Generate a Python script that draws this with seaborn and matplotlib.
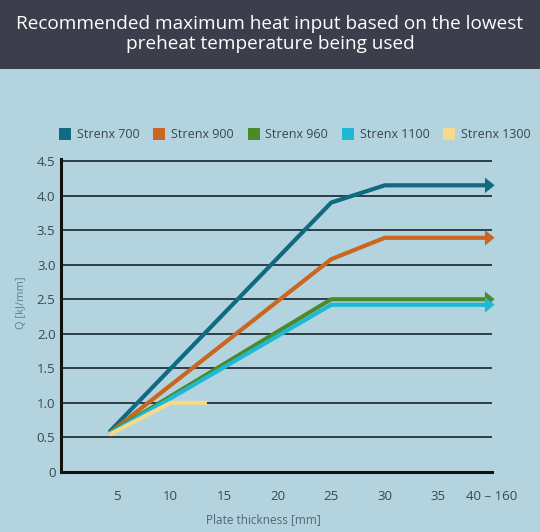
import matplotlib.pyplot as plt
from matplotlib.lines import Line2D
from matplotlib.patches import Rectangle
import pandas as pd
import seaborn as sns

# data
series = ["Strenx 700", "Strenx 900", "Strenx 960", "Strenx 1100", "Strenx 1300"]
colours = ["#0f6a82", "#c9661f", "#4b8a2b", "#1fb8d5", "#f5d98c"]

x_700 = [4.3, 25, 30, 40]
q_700 = [0.58, 3.90, 4.15, 4.15]
x_900 = [4.3, 25, 30, 40]
q_900 = [0.56, 3.08, 3.39, 3.39]
x_960 = [4.3, 25, 40]
q_960 = [0.56, 2.50, 2.50]
x_1100 = [4.3, 25, 40]
q_1100 = [0.55, 2.42, 2.42]
x_1300 = [4.3, 10, 13.4]
q_1300 = [0.54, 1.00, 1.00]

# series that keep going past 40 mm get an arrow head
arrow_series = ["Strenx 700", "Strenx 900", "Strenx 960", "Strenx 1100"]

x_ticks = [5, 10, 15, 20, 25, 30, 35, 40]
x_labels = ["5", "10", "15", "20", "25", "30", "35", "40 – 160"]
y_ticks = [0, 0.5, 1.0, 1.5, 2.0, 2.5, 3.0, 3.5, 4.0, 4.5]
y_labels = ["0", "0.5", "1.0", "1.5", "2.0", "2.5", "3.0", "3.5", "4.0", "4.5"]

title = "Recommended maximum heat input based on the lowest\npreheat temperature being used"

# build a long table for seaborn
frames = []
for name, xs, qs in zip(series, [x_700, x_900, x_960, x_1100, x_1300],
                        [q_700, q_900, q_960, q_1100, q_1300]):
    frames.append(pd.DataFrame({"thickness": xs, "q": qs, "grade": name}))
df = pd.concat(frames, ignore_index=True)
ends = df[df["grade"].isin(arrow_series)].groupby("grade", sort=False).tail(1)

bg = "#b3d4de"
sns.set_theme(style="white", rc={"axes.facecolor": bg, "figure.facecolor": bg})
plt.rcParams["font.family"] = ["Open Sans", "DejaVu Sans"]

fig = plt.figure(figsize=(5.4, 5.32), dpi=100)
ax = fig.add_axes([0.113, 0.113, 0.798, 0.588])

palette = dict(zip(series, colours))
sns.lineplot(data=df, x="thickness", y="q", hue="grade", palette=palette,
             estimator=None, sort=False, linewidth=3, legend=False, ax=ax)

arrow = [(-0.9, -1.0), (0.35, 0.0), (-0.9, 1.0)]
sns.scatterplot(data=ends, x="thickness", y="q", hue="grade", palette=palette,
                marker=arrow, s=125, linewidth=0, legend=False, ax=ax, zorder=5,
                clip_on=False)
for ln in ax.lines:
    ln.set_solid_capstyle("butt")

ax.set_xlim(-0.22, 40)
ax.set_ylim(0, 4.53)
ax.set_xticks(x_ticks)
ax.set_xticklabels(x_labels)
ax.set_yticks(y_ticks)
ax.set_yticklabels(y_labels)
ax.grid(axis="y", color="#22323c", linewidth=1.3)
ax.set_axisbelow(True)

for side in ["top", "right"]:
    ax.spines[side].set_visible(False)
for side in ["left", "bottom"]:
    ax.spines[side].set_color("#111111")
    ax.spines[side].set_linewidth(2.2)

ax.tick_params(axis="x", direction="out", length=5, width=2, color="#111111",
               labelsize=9.5, labelcolor="#384752", pad=8)
ax.tick_params(axis="y", length=0, labelsize=9.5, labelcolor="#384752", pad=4)

ax.set_xlabel("Plate thickness [mm]", fontsize=8.5, color="#4d6876")
ax.xaxis.set_label_coords(0.469, -0.133)
ax.set_ylabel("Q [kJ/mm]", fontsize=8, color="#5d8190")
ax.yaxis.set_label_coords(-0.079, 0.54)

handles = [Line2D([], [], marker="s", linestyle="none", markersize=8.5,
                  markerfacecolor=c, markeredgewidth=0) for c in colours]
fig.legend(handles, series, loc="center", bbox_to_anchor=(0.546, 1 - 135 / 532),
           ncol=5, frameon=False, fontsize=9, handlelength=1.0,
           handletextpad=0.45, columnspacing=1.07, labelcolor="#3a4550")

# dark title bar
fig.patches.append(Rectangle((0, 1 - 69 / 532), 1, 69 / 532, transform=fig.transFigure,
                             facecolor="#3c3f4b", edgecolor="none", zorder=0))
fig.text(0.5, 1 - 34 / 532, title, ha="center", va="center", color="white",
         fontsize=13.7, linespacing=1.2)

fig.savefig("out.png", dpi=100, facecolor=bg)
